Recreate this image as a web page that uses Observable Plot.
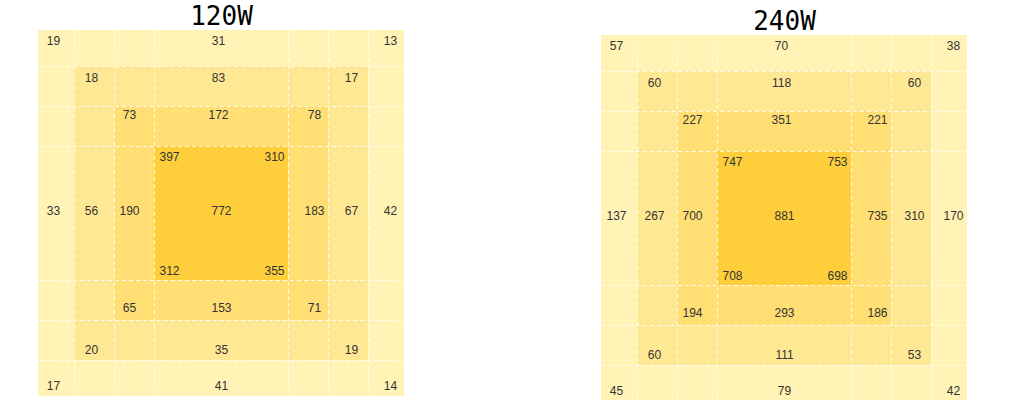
<!DOCTYPE html>
<html><head><meta charset="utf-8">
<script src="https://cdn.jsdelivr.net/npm/d3@7"></script>
<script src="https://cdn.jsdelivr.net/npm/@observablehq/plot@0.6"></script>
<style>
html,body{margin:0;padding:0;background:#fff;}
#wrap{position:relative;width:1024px;height:400px;overflow:hidden;}
.panel{position:absolute;}
</style></head><body><div id="wrap"></div>
<script>
// ---- data ----
const titles = ["120W", "240W"];
// ring label order: top-left, top, top-right, left, right, bottom-left, bottom, bottom-right
const ringPositions = ["tl", "t", "tr", "l", "r", "bl", "b", "br"];
// center label order: top-left, top-right, center, bottom-left, bottom-right
const centerPositions = ["tl", "tr", "c", "bl", "br"];

const w120Ring0 = [19, 31, 13, 33, 42, 17, 41, 14];
const w120Ring1 = [18, 83, 17, 56, 67, 20, 35, 19];
const w120Ring2 = [73, 172, 78, 190, 183, 65, 153, 71];
const w120Center = [397, 310, 772, 312, 355];

const w240Ring0 = [57, 70, 38, 137, 170, 45, 79, 42];
const w240Ring1 = [60, 118, 60, 267, 310, 60, 111, 53];
const w240Ring2 = [227, 351, 221, 700, 735, 194, 293, 186];
const w240Center = [747, 753, 881, 708, 698];

// ---- layout / style ----
const edges = [0, 36, 76, 116, 250, 290, 330, 366];
const mid = 183;
const ringColors = ["#fff3b5", "#ffe893", "#ffdf73", "#ffcf3b"];
const sideDx = [15, 17, 15, 15];
const rightDx = [-14, -17, -14, -14];
const topDy = [11, 12, 9, 11];
const botDy = [-10, -10, -12, -9];

function buildLabels(rings, center) {
  const out = [];
  rings.forEach((vals, k) => {
    vals.forEach((v, i) => out.push({ring: k, pos: ringPositions[i], value: v}));
  });
  center.forEach((v, i) => out.push({ring: 3, pos: centerPositions[i], value: v}));
  return out;
}

const panelData = [
  buildLabels([w120Ring0, w120Ring1, w120Ring2], w120Center),
  buildLabels([w240Ring0, w240Ring1, w240Ring2], w240Center)
];

const ringRects = [0, 1, 2, 3].map(k => ({ring: k, x1: edges[k], x2: edges[7 - k], y1: edges[k], y2: edges[7 - k]}));

function labelMark(d) {
  const k = d.ring;
  let x, y, dx = 0, dy = 0;
  if (d.pos.includes("l")) { x = edges[k]; dx = sideDx[k]; }
  else if (d.pos.includes("r")) { x = edges[7 - k]; dx = rightDx[k]; }
  else { x = mid; dx = d.pos === "t" ? -3 : 0; }
  if (d.pos.startsWith("t")) { y = edges[k]; dy = topDy[k]; }
  else if (d.pos.startsWith("b")) { y = edges[7 - k]; dy = botDy[k]; }
  else { y = mid; dy = -2; }
  return Plot.text([d], {x: () => x, y: () => y, text: "value", dx, dy,
    fill: "#333", fontSize: 12, fontFamily: "Liberation Sans, Arial, sans-serif", textAnchor: "middle", lineAnchor: "middle"});
}

const offsets = [{left: 0, top: 0}, {left: 563, top: 5}];
const wrap = document.getElementById("wrap");

titles.forEach((title, p) => {
  const labels = panelData[p];
  const chart = Plot.plot({
    width: 442, height: 400,
    marginLeft: 38, marginRight: 38, marginTop: 30, marginBottom: 4,
    x: {domain: [0, 366], axis: null},
    y: {domain: [0, 366], axis: null, reverse: true},
    style: {background: "transparent"},
    marks: [
      Plot.rect(ringRects, {x1: "x1", x2: "x2", y1: "y1", y2: "y2", fill: d => ringColors[d.ring]}),
      Plot.ruleX(edges.slice(1, -1), {x: d => d, y1: 0, y2: 366, stroke: "white", strokeDasharray: "4,3", strokeWidth: 1, strokeOpacity: 0.85}),
      Plot.ruleY(edges.slice(1, -1), {y: d => d, x1: 0, x2: 366, stroke: "white", strokeDasharray: "4,3", strokeWidth: 1, strokeOpacity: 0.85}),
      ...labels.map(labelMark),
      Plot.text([title], {frameAnchor: "top", lineAnchor: "middle", dy: -14, fontSize: 26, fill: "#000",
        fontFamily: "DejaVu Sans Mono, monospace"})
    ]
  });
  const div = document.createElement("div");
  div.className = "panel";
  div.style.left = offsets[p].left + "px";
  div.style.top = offsets[p].top + "px";
  div.appendChild(chart);
  wrap.appendChild(div);
});
</script></body></html>
